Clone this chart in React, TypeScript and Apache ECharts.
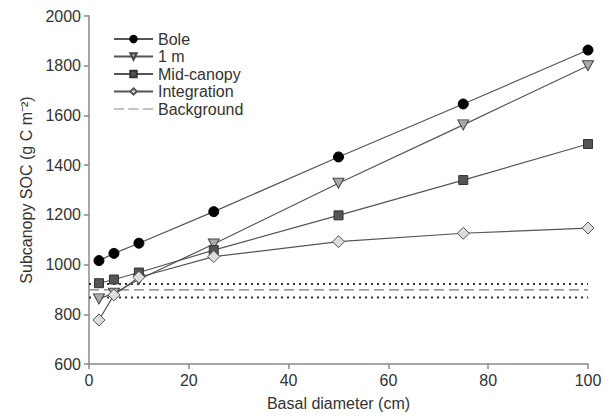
import React, { useEffect, useRef } from "react";
import * as echarts from "echarts";

const diameters = [2, 5, 10, 25, 50, 75, 100];
const bole = [1016, 1045, 1086, 1213, 1433, 1646, 1863];
const oneMeter = [862, 885, 940, 1083, 1327, 1562, 1800];
const midCanopy = [925, 940, 968, 1058, 1198, 1340, 1485];
const integration = [777, 878, 949, 1032, 1092, 1126, 1147];
const backgroundX = [0, 100];
const background = 898;
const backgroundLow = 868;
const backgroundHigh = 922;

const pairs = (ys: number[]) => diameters.map((d, i) => [d, ys[i]]);
const flat = (v: number) => backgroundX.map((x) => [x, v]);

const FONT = "Arial";
const downTri = "path://M0,0 L10,0 L5,9 Z";

export default function App() {
  const ref = useRef<HTMLDivElement>(null);
  useEffect(() => {
    if (!ref.current) return;
    const chart = echarts.init(ref.current, null, { renderer: "svg" });
    const lineStyle = { color: "#555", width: 1.2 };
    chart.setOption({
      animation: false,
      backgroundColor: "#fff",
      textStyle: { fontFamily: FONT },
      grid: { left: 89, right: 23, top: 16, bottom: 54 },
      legend: {
        left: 113,
        top: 31,
        padding: 0,
        orient: "vertical",
        itemWidth: 39,
        itemHeight: 8,
        itemGap: 1.5,
        textStyle: { fontSize: 16, color: "#333", fontFamily: FONT },
        data: [
          "Bole",
          "1 m",
          "Mid-canopy",
          "Integration",
          {
            name: "Background",
            icon: "path://M0,0 L10,0 L10,1 L0,1 Z M14,0 L24,0 L24,1 L14,1 Z M28,0 L38,0 L38,1 L28,1 Z",
          },
        ],
      },
      xAxis: {
        type: "value",
        min: 0,
        max: 100,
        interval: 20,
        name: "Basal diameter (cm)",
        nameLocation: "middle",
        nameGap: 31,
        nameTextStyle: { fontSize: 16, color: "#333", fontFamily: FONT },
        axisLine: { lineStyle: { color: "#888", width: 1.5 } },
        axisTick: { lineStyle: { color: "#888", width: 1.5 }, length: 5 },
        axisLabel: { fontSize: 16, color: "#333", margin: 8, fontFamily: FONT },
        splitLine: { show: false },
      },
      yAxis: {
        type: "value",
        min: 600,
        max: 2000,
        interval: 200,
        name: "Subcanopy SOC (g C m⁻²)",
        nameLocation: "middle",
        nameGap: 53,
        nameTextStyle: { fontSize: 16, color: "#333", fontFamily: FONT },
        axisLine: { show: true, lineStyle: { color: "#888", width: 1.5 } },
        axisTick: { show: true, lineStyle: { color: "#888", width: 1.5 }, length: 5 },
        axisLabel: {
          fontSize: 16,
          color: "#333",
          margin: 8,
          fontFamily: FONT,
          formatter: (v: number) => String(v),
        },
        splitLine: { show: false },
      },
      series: [
        {
          name: "Bole",
          type: "line",
          data: pairs(bole),
          symbol: "circle",
          symbolSize: 10,
          lineStyle,
          itemStyle: { color: "#000", borderColor: "#000", borderWidth: 1 },
          z: 5,
        },
        {
          name: "1 m",
          type: "line",
          data: pairs(oneMeter),
          symbol: downTri,
          symbolSize: [11, 10],
          lineStyle,
          itemStyle: { color: "#aaa", borderColor: "#444", borderWidth: 1 },
          z: 4,
        },
        {
          name: "Mid-canopy",
          type: "line",
          data: pairs(midCanopy),
          symbol: "rect",
          symbolSize: 9,
          lineStyle,
          itemStyle: { color: "#555", borderColor: "#333", borderWidth: 1 },
          z: 4,
        },
        {
          name: "Integration",
          type: "line",
          data: pairs(integration),
          symbol: "diamond",
          symbolSize: 12,
          lineStyle,
          itemStyle: { color: "#ddd", borderColor: "#555", borderWidth: 1 },
          z: 6,
        },
        {
          name: "Background",
          type: "line",
          data: flat(background),
          symbol: "none",
          showSymbol: false,
          lineStyle: { color: "#777", width: 1.3, type: [10, 5] },
          itemStyle: { color: "#888" },
          z: 2,
        },
        {
          name: "BgLow",
          type: "line",
          data: flat(backgroundLow),
          symbol: "none",
          lineStyle: { color: "#333", width: 2, type: [2, 4] },
          z: 2,
        },
        {
          name: "BgHigh",
          type: "line",
          data: flat(backgroundHigh),
          symbol: "none",
          lineStyle: { color: "#333", width: 2, type: [2, 4] },
          z: 2,
        },
      ],
    });
    return () => chart.dispose();
  }, []);
  return <div ref={ref} style={{ width: 611, height: 418, position: "absolute", left: 0, top: 0 }} />;
}
